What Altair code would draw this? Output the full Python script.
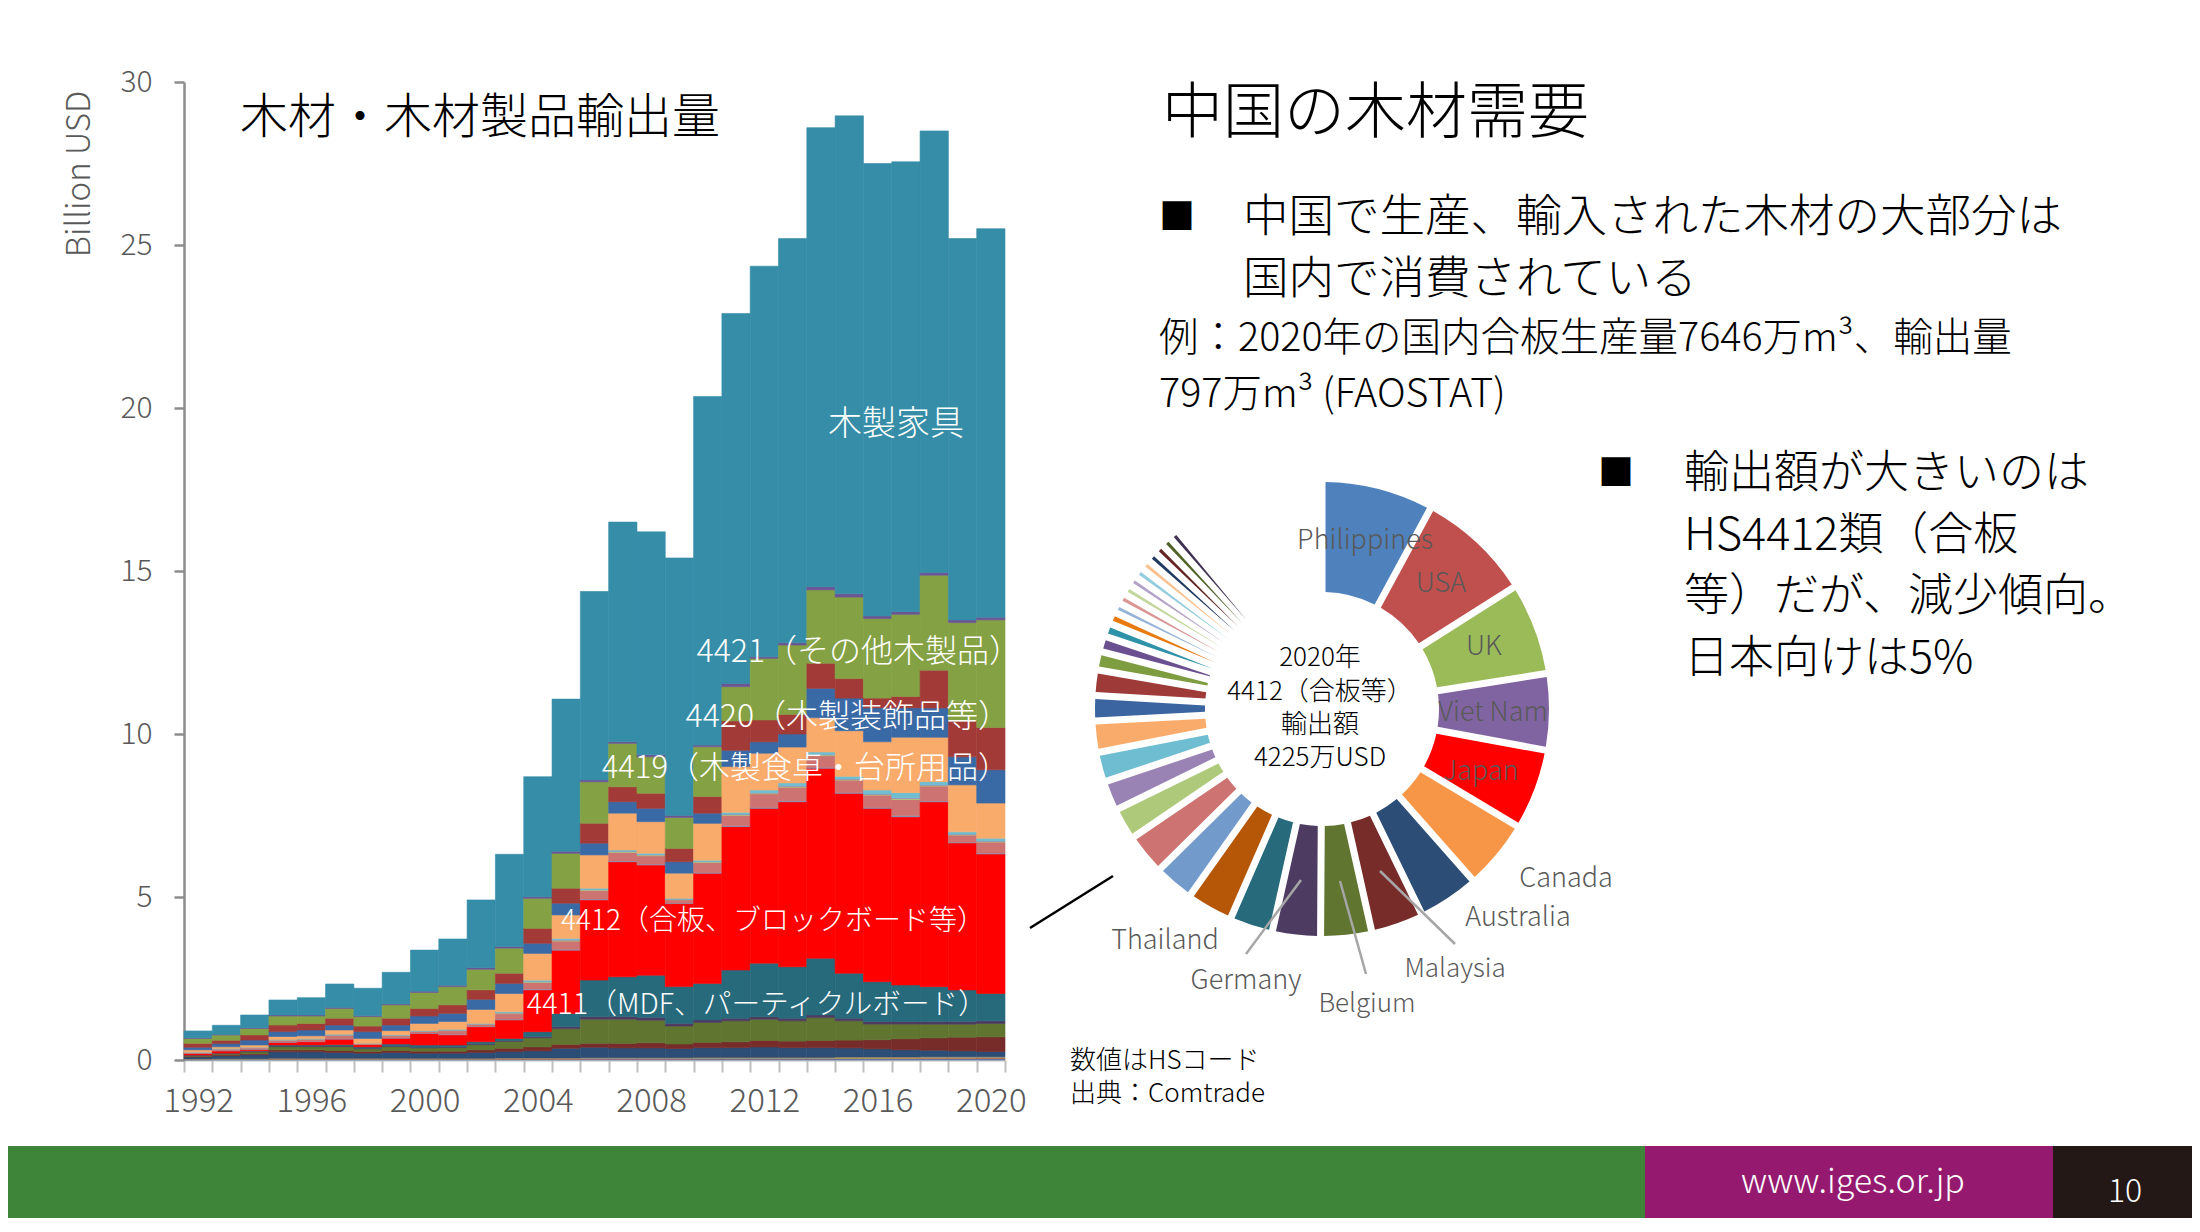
import altair as alt
import pandas as pd

FONT = "Noto Sans CJK JP"
WEIGHT = 300

# ---------------- data: exports by HS code (billion USD) ----------------
years = list(range(1992, 2021))

hs4401 = [0.010,0.014,0.014,0.018,0.018,0.018,0.018,0.018,0.018,0.018,0.018,0.021,0.021,0.021,0.025,0.025,0.025,0.025,0.028,0.028,0.028,0.028,0.028,0.030,0.030,0.030,0.032,0.032,0.032]
hs4402 = [0.006,0.008,0.008,0.010,0.010,0.010,0.010,0.010,0.010,0.010,0.010,0.012,0.012,0.012,0.014,0.014,0.014,0.014,0.016,0.016,0.016,0.016,0.016,0.020,0.020,0.022,0.025,0.025,0.028]
hs4403 = [0.008,0.010,0.010,0.012,0.012,0.012,0.012,0.012,0.012,0.012,0.012,0.015,0.015,0.015,0.017,0.017,0.017,0.017,0.020,0.020,0.020,0.020,0.020,0.022,0.022,0.020,0.022,0.022,0.020]
hs4404 = [0.002,0.002,0.002,0.003,0.003,0.003,0.003,0.003,0.003,0.003,0.003,0.003,0.003,0.003,0.004,0.004,0.004,0.004,0.004,0.004,0.004,0.004,0.004,0.005,0.005,0.005,0.005,0.005,0.005]
hs4405 = [0.002,0.002,0.002,0.003,0.003,0.003,0.003,0.003,0.003,0.003,0.003,0.003,0.003,0.003,0.004,0.004,0.004,0.004,0.004,0.004,0.004,0.004,0.004,0.005,0.005,0.005,0.005,0.005,0.005]
hs4406 = [0.003,0.004,0.004,0.005,0.005,0.005,0.005,0.005,0.005,0.005,0.005,0.006,0.006,0.006,0.007,0.007,0.007,0.007,0.008,0.008,0.008,0.008,0.008,0.009,0.009,0.009,0.010,0.010,0.010]
hs4407 = [0.06,0.09,0.12,0.20,0.20,0.18,0.16,0.18,0.16,0.16,0.18,0.20,0.22,0.30,0.32,0.30,0.30,0.28,0.30,0.30,0.32,0.30,0.30,0.28,0.25,0.22,0.20,0.18,0.16]
hs4408 = [0.02,0.03,0.04,0.06,0.06,0.06,0.05,0.06,0.06,0.06,0.08,0.10,0.12,0.12,0.12,0.14,0.16,0.14,0.16,0.18,0.20,0.20,0.22,0.24,0.28,0.34,0.38,0.42,0.45]
hs4409 = [0.02,0.03,0.05,0.10,0.10,0.12,0.08,0.12,0.10,0.11,0.16,0.21,0.28,0.48,0.74,0.74,0.69,0.55,0.61,0.64,0.65,0.62,0.70,0.59,0.48,0.45,0.42,0.40,0.41]
hs4410 = [0.01,0.01,0.01,0.02,0.02,0.02,0.02,0.02,0.02,0.02,0.03,0.03,0.04,0.06,0.08,0.08,0.08,0.08,0.08,0.08,0.08,0.08,0.08,0.08,0.08,0.08,0.08,0.08,0.08]
hs4411 = [0.01,0.01,0.02,0.03,0.03,0.04,0.04,0.06,0.07,0.06,0.06,0.06,0.15,0.41,1.12,1.22,1.30,1.13,1.12,1.48,1.64,1.58,1.74,1.38,1.22,1.12,1.07,0.97,0.84]
hs4412 = [0.05,0.07,0.05,0.08,0.10,0.17,0.07,0.18,0.36,0.31,0.46,0.57,1.28,1.94,2.46,3.53,3.38,2.55,3.38,4.40,4.75,5.06,5.83,5.52,5.32,5.16,5.67,4.51,4.28]
hs4413 = [0.004,0.008,0.004,0.008,0.010,0.012,0.004,0.008,0.008,0.016,0.010,0.020,0.024,0.028,0.024,0.024,0.024,0.012,0.024,0.024,0.024,0.028,0.024,0.024,0.024,0.032,0.024,0.020,0.024]
hs4414 = [0.025,0.045,0.040,0.060,0.065,0.100,0.025,0.065,0.050,0.110,0.060,0.170,0.200,0.250,0.260,0.260,0.260,0.100,0.300,0.320,0.420,0.420,0.360,0.380,0.380,0.500,0.460,0.220,0.340]
hs4415 = [0.004,0.008,0.004,0.008,0.010,0.012,0.004,0.008,0.008,0.016,0.010,0.020,0.024,0.028,0.024,0.024,0.024,0.012,0.024,0.024,0.024,0.028,0.024,0.024,0.024,0.032,0.024,0.020,0.024]
hs4416 = [0.002,0.004,0.002,0.004,0.005,0.006,0.002,0.004,0.004,0.008,0.005,0.010,0.012,0.014,0.012,0.012,0.012,0.006,0.012,0.012,0.012,0.014,0.012,0.012,0.012,0.016,0.012,0.010,0.012]
hs4417 = [0.005,0.010,0.010,0.010,0.010,0.020,0.005,0.015,0.010,0.020,0.015,0.030,0.040,0.040,0.040,0.040,0.040,0.030,0.040,0.060,0.080,0.090,0.080,0.080,0.120,0.160,0.100,0.070,0.080]
hs4418 = [0.07,0.05,0.07,0.09,0.08,0.13,0.15,0.13,0.22,0.24,0.43,0.56,0.82,0.72,1.02,1.13,0.97,0.77,1.13,1.40,1.13,1.10,1.05,1.40,1.48,1.70,1.36,1.44,1.08]
hs4419 = [0.08,0.10,0.15,0.15,0.18,0.15,0.21,0.17,0.23,0.25,0.31,0.31,0.31,0.36,0.36,0.35,0.41,0.35,0.31,0.50,0.35,0.40,0.90,1.00,1.04,0.90,0.90,0.86,1.02]
hs4420 = [0.12,0.10,0.16,0.20,0.20,0.21,0.17,0.21,0.23,0.26,0.29,0.31,0.46,0.46,0.61,0.46,0.46,0.41,0.51,0.90,0.67,0.60,0.77,0.60,0.30,0.35,1.16,1.10,1.30]
hs4421 = [0.15,0.16,0.20,0.28,0.23,0.30,0.29,0.41,0.49,0.56,0.63,0.77,0.92,1.07,1.27,1.33,1.12,0.95,1.53,1.05,1.89,2.13,2.25,2.50,2.44,2.52,2.91,3.02,3.30]
hs9401 = [0.02,0.02,0.02,0.03,0.03,0.03,0.03,0.03,0.04,0.04,0.05,0.05,0.05,0.06,0.06,0.05,0.06,0.06,0.05,0.10,0.05,0.07,0.10,0.10,0.08,0.08,0.08,0.08,0.08]
hs9403 = [0.21,0.28,0.39,0.46,0.53,0.72,0.84,0.97,1.26,1.42,2.08,2.83,3.68,4.67,5.78,6.74,6.84,7.90,10.69,11.35,11.98,12.40,14.08,14.66,13.88,13.80,13.55,11.70,11.92]

series_names = ["4401","4402","4403","4404","4405","4406","4407","4408","4409","4410",
                "4411","4412","4413","4414","4415","4416","4417","4418","4419","4420",
                "4421","9401","9403"]
series_values = [hs4401,hs4402,hs4403,hs4404,hs4405,hs4406,hs4407,hs4408,hs4409,hs4410,
                 hs4411,hs4412,hs4413,hs4414,hs4415,hs4416,hs4417,hs4418,hs4419,hs4420,
                 hs4421,hs9401,hs9403]
series_colors = ["#4F81BD","#C0504D","#9BBB59","#8064A2","#4BACC6","#F79646","#2C4D75","#772C2A",
                 "#5F7530","#4D3B62","#276A7C","#FF0000","#729ACA","#CD7371","#AFC97A","#9983B5",
                 "#6FBDD1","#F9AB6B","#3A6AA6","#A23B38","#84A143","#6B5595","#358DA8"]

# ---------------- data: 2020 HS4412 destinations (share, %) ----------------
dest_names = ["Philippines","USA","UK","Viet Nam","Japan","Canada","Australia","Malaysia",
              "Belgium","Germany","その他11","Thailand","その他13","その他14","その他15","その他16",
              "その他17","その他18","その他19","その他20","その他21","その他22","その他23","その他24",
              "その他25","その他26","その他27","その他28","その他29","その他30","その他31","その他32",
              "その他33","その他34","残り"]
dest_share = [7.9,8.1,6.5,5.4,5.7,4.9,4.3,3.7,
              3.6,3.4,3.05,3.25,2.8,2.9,2.25,2.1,
              2.1,2.2,1.8,1.8,1.3,1.1,0.95,0.85,
              0.72,0.72,0.72,0.72,0.72,0.72,0.72,0.72,
              0.72,0.72,10.85]
dest_colors = ["#4F81BD","#C0504D","#9BBB59","#8064A2","#FF0000","#F79646","#2C4D75","#772C2A",
               "#5F7530","#4D3B62","#276A7C","#B65708","#729ACA","#CD7371","#AFC97A","#9983B5",
               "#6FBDD1","#F9AB6B","#3A65A0","#9E3A38","#7E9C40","#6A5090","#2E93A8","#E97A10",
               "#95B3D7","#D99694","#C3D69B","#B3A2C7","#93CDDD","#FAC090","#1F3A60","#632523",
               "#4F6228","#3F3151","#FFFFFF"]

x_tick_labels = [1992, 1996, 2000, 2004, 2008, 2012, 2016, 2020]
y_tick_values = [0, 5, 10, 15, 20, 25, 30]

# ---------------- tables ----------------
rows = []
for k, (name, vals) in enumerate(zip(series_names, series_values)):
    for yr, v in zip(years, vals):
        rows.append({"year": yr, "series": name, "k": k, "value": v})
df_exports = pd.DataFrame(rows).sort_values(["year", "k"])

df_dest = pd.DataFrame({"dest": dest_names, "share": dest_share, "k": list(range(len(dest_names)))})

W, H = 821, 978
GRAY = "#595959"
AXIS_GRAY = "#8C8C8C"

label_years = ",".join(str(v) for v in x_tick_labels)

bars = alt.Chart(df_exports).mark_bar(strokeWidth=0.6).encode(
    x=alt.X("year:O",
            scale=alt.Scale(paddingInner=0, paddingOuter=0),
            axis=alt.Axis(title=None, labelAngle=0, tickBand="extent",
                          labelExpr=f"indexof([{label_years}], datum.value) >= 0 ? datum.label : ''",
                          labelOverlap=False, labelFontSize=33, labelColor=GRAY,
                          labelFontWeight=WEIGHT,
                          labelPadding=13, tickSize=12, tickColor="#BFBFBF", tickWidth=2,
                          domainColor="#BFBFBF", domainWidth=2, labelFont=FONT)),
    y=alt.Y("value:Q", stack="zero",
            scale=alt.Scale(domain=[0, 30], nice=False),
            axis=alt.Axis(title=None, values=y_tick_values, grid=False,
                          labelFontSize=30, labelColor=GRAY, labelPadding=22,
                          labelFontWeight=WEIGHT,
                          tickSize=10, tickColor=AXIS_GRAY, tickWidth=2.5,
                          domainColor=AXIS_GRAY, domainWidth=2.5, labelFont=FONT)),
    color=alt.Color("series:N", scale=alt.Scale(domain=series_names, range=series_colors), legend=None),
    stroke=alt.Stroke("series:N", scale=alt.Scale(domain=series_names, range=series_colors), legend=None),
    order=alt.Order("k:Q", sort="ascending"),
)

CX, CY = 1138, 627
donut = alt.Chart(df_dest).mark_arc(radius=227, radius2=117, padAngle=0.0275).encode(
    theta=alt.Theta("share:Q", stack=True),
    color=alt.Color("dest:N", scale=alt.Scale(domain=dest_names, range=dest_colors), legend=None),
    order=alt.Order("k:Q", sort="ascending"),
    x=alt.value(CX), y=alt.value(CY),
)


def txt(s, x, y, size, color="black", align="left", angle=None):
    kw = dict(align=align, baseline="middle", fontSize=size, color=color, font=FONT,
              fontWeight=WEIGHT)
    if angle is not None:
        kw["angle"] = angle
    return alt.Chart(pd.DataFrame({"t": [s]})).mark_text(**kw).encode(
        text="t:N", x=alt.value(x), y=alt.value(y))


def seg(x1, y1, x2, y2, color, width):
    return alt.Chart(pd.DataFrame({"a": [0]})).mark_rule(color=color, strokeWidth=width).encode(
        x=alt.value(x1), y=alt.value(y1), x2=alt.value(x2), y2=alt.value(y2))


def box(x1, y1, x2, y2, color):
    return alt.Chart(pd.DataFrame({"a": [0]})).mark_rect(color=color).encode(
        x=alt.value(x1), y=alt.value(y1), x2=alt.value(x2), y2=alt.value(y2))


layers = [
    # footer
    box(-176, 1064, 1461, 1140, "#3E8539"),
    box(1461, 1064, 1869, 1140, "#951A6F"),
    box(1869, 1064, 2010, 1140, "#231816"),
    bars,
    donut,
    seg(1117, 798, 1062, 872, "#A6A6A6", 2.5),
    seg(1156, 799, 1182, 892, "#A6A6A6", 2.5),
    seg(1196, 789, 1271, 862, "#A6A6A6", 2.5),
    seg(846, 846, 929, 794, "black", 2.5),
    # axis title & chart title
    txt("Billion USD", -104, 92, 33, GRAY, "center", 270),
    txt("木材・木材製品輸出量", 56, 37, 48),
    # series labels
    txt("木製家具", 712, 343, 34, "white", "center"),
    txt("4421（その他木製品）", 837, 570, 32, "white", "right"),
    txt("4420（木製装飾品等）", 826, 635, 32, "white", "right"),
    txt("4419（木製食卓・台所用品）", 825, 687, 31, "white", "right"),
    txt("4412（合板、ブロックボード等）", 801, 840, 28, "white", "right"),
    txt("4411（MDF、パーティクルボード）", 803, 923, 28.7, "white", "right"),
    # donut centre
    txt("2020年", 1136, 576, 26, "black", "center"),
    txt("4412（合板等）", 1136, 610, 26, "black", "center"),
    txt("輸出額", 1136, 643, 26, "black", "center"),
    txt("4225万USD", 1136, 676, 26, "black", "center"),
    # donut labels
    txt("Philippines", 1181, 459, 27, GRAY, "center"),
    txt("USA", 1257, 502, 27, GRAY, "center"),
    txt("UK", 1300, 565, 27, GRAY, "center"),
    txt("Viet Nam", 1309, 631, 27, GRAY, "center"),
    txt("Japan", 1297, 690, 27, GRAY, "center"),
    txt("Canada", 1382, 797, 27, GRAY, "center"),
    txt("Australia", 1334, 836, 27, GRAY, "center"),
    txt("Malaysia", 1271, 887, 26, GRAY, "center"),
    txt("Belgium", 1183, 922, 26, GRAY, "center"),
    txt("Germany", 1062, 899, 27, GRAY, "center"),
    txt("Thailand", 981, 859, 27, GRAY, "center"),
    # notes
    txt("数値はHSコード", 886, 979, 26),
    txt("出典：Comtrade", 886, 1012, 26),
    # right-hand text
    txt("中国の木材需要", 978, 33, 61),
    txt("■", 975, 137, 36),
    txt("中国で生産、輸入された木材の大部分は", 1059, 136, 45.5),
    txt("国内で消費されている", 1059, 198, 45.5),
    txt("例：2020年の国内合板生産量7646万m³、輸出量", 975, 257, 39.5),
    txt("797万m³ (FAOSTAT)", 975, 313, 39.5),
    txt("■", 1414, 393, 36),
    txt("輸出額が大きいのは", 1500, 392, 45),
    txt("HS4412類（合板", 1500, 453.5, 45),
    txt("等）だが、減少傾向。", 1500, 515, 45),
    txt("日本向けは5%", 1500, 576.5, 45),
    # footer text
    txt("www.iges.or.jp", 1669, 1101, 34, "white", "center"),
    txt("10", 1941, 1110, 32, "white", "center"),
]

chart = (
    alt.layer(*layers)
    .resolve_scale(color="independent")
    .properties(
        width=W, height=H,
        autosize=alt.AutoSizeParams(type="none"),
        padding={"left": 176, "top": 74, "right": 1187, "bottom": 158},
    )
    .configure(font=FONT)
    .configure_view(strokeWidth=0, stroke="transparent")
)

chart.save("out.html", embed_options={"renderer": "svg", "actions": False})
